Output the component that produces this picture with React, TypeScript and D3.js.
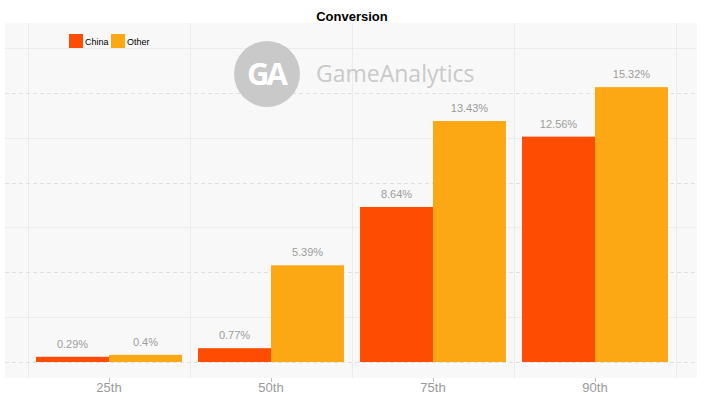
import React from 'react';
import * as d3 from 'd3';

const categories = ['25th', '50th', '75th', '90th'];
const seriesNames = ['China', 'Other'];
const chinaValues = [0.29, 0.77, 8.64, 12.56];
const otherValues = [0.4, 5.39, 13.43, 15.32];
const valueLabels = [
  ['0.29%', '0.77%', '8.64%', '12.56%'],
  ['0.4%', '5.39%', '13.43%', '15.32%'],
];
const gridTicks = [0, 2.5, 5, 7.5, 10, 12.5, 15, 17.5];

const width = 708;
const height = 399;
const plot = { left: 5, right: 697, top: 23, bottom: 378 };
const colors = ['#fe4d02', '#fca815'];

const App = () => {
  const xScale = d3.scaleBand().domain(categories).range([28, 676]).paddingInner(0).paddingOuter(0);
  const inner = d3.scaleBand().domain(seriesNames).range([0, xScale.bandwidth()]).paddingOuter(0.11);
  const yScale = d3.scaleLinear().domain([0, 17.5]).range([362, 48]);
  const series = [chinaValues, otherValues];

  const bands = [...categories.map(c => xScale(c) as number), 676];

  return (
    <svg width={width} height={height} style={{ position: 'absolute', left: 0, top: 0, fontFamily: 'Helvetica, Arial, "Liberation Sans", sans-serif' }}>
      <rect x={0} y={0} width={width} height={height} fill='#fff' />
      {/* plot background */}
      <rect x={plot.left} y={plot.top} width={plot.right - plot.left} height={plot.bottom - plot.top} fill='#f8f8f8' />

      {/* vertical grid */}
      {bands.map((b, i) => (
        <line key={'v' + i} x1={b + 0.5} x2={b + 0.5} y1={plot.top} y2={plot.bottom} stroke='#ececec' />
      ))}

      {/* horizontal grid: dashed on whole numbers, solid in between */}
      {gridTicks.map((t, i) => (
        <line key={'h' + i} x1={plot.left} x2={plot.right} y1={Math.round(yScale(t)) + 0.5} y2={Math.round(yScale(t)) + 0.5}
          stroke={i % 2 === 0 ? '#e0e0e0' : '#ececec'} strokeDasharray={i % 2 === 0 ? '4,3' : undefined} />
      ))}

      {/* watermark */}
      <g>
        <circle cx={267} cy={74} r={33} fill='#c9c9c9' />
        <text x={266} y={85} textAnchor='middle' fontSize={31} fontWeight='bold' fill='#fff' fontFamily='"Open Sans", sans-serif' letterSpacing={-3}>GA</text>
        <text x={316} y={82} fontSize={23} fill='#c9c9c9' fontFamily='"Open Sans", sans-serif'>GameAnalytics</text>
      </g>

      {/* bars */}
      {series.map((vals, si) => (
        <g key={'s' + si}>
          {vals.map((v, ci) => {
            const x = (xScale(categories[ci]) as number) + (inner(seriesNames[si]) as number);
            const y = yScale(v);
            return (
              <g key={ci}>
                <rect x={x} y={y} width={inner.bandwidth()} height={yScale(0) - y} fill={colors[si]} />
                <text x={x + inner.bandwidth() / 2} y={y - 9} textAnchor='middle' fontSize={11} fill='#9c9c9c'>{valueLabels[si][ci]}</text>
              </g>
            );
          })}
        </g>
      ))}

      {/* x axis */}
      {categories.map(c => {
        const cx = (xScale(c) as number) + xScale.bandwidth() / 2;
        return (
          <g key={c}>
            <line x1={cx + 0.5} x2={cx + 0.5} y1={plot.bottom} y2={plot.bottom + 4} stroke='#bbb' />
            <text x={cx} y={392} textAnchor='middle' fontSize={13} fill='#999'>{c}</text>
          </g>
        );
      })}

      {/* title */}
      <text x={352} y={21} textAnchor='middle' fontSize={13} fontWeight='bold' fill='#000'>Conversion</text>

      {/* legend */}
      {seriesNames.map((s, i) => {
        const lx = [69, 111][i];
        return (
          <g key={s}>
            <rect x={lx} y={34} width={14} height={14} fill={colors[i]} />
            <text x={lx + 16} y={45} fontSize={9} fill='#000'>{s}</text>
          </g>
        );
      })}
    </svg>
  );
};

export default App;
